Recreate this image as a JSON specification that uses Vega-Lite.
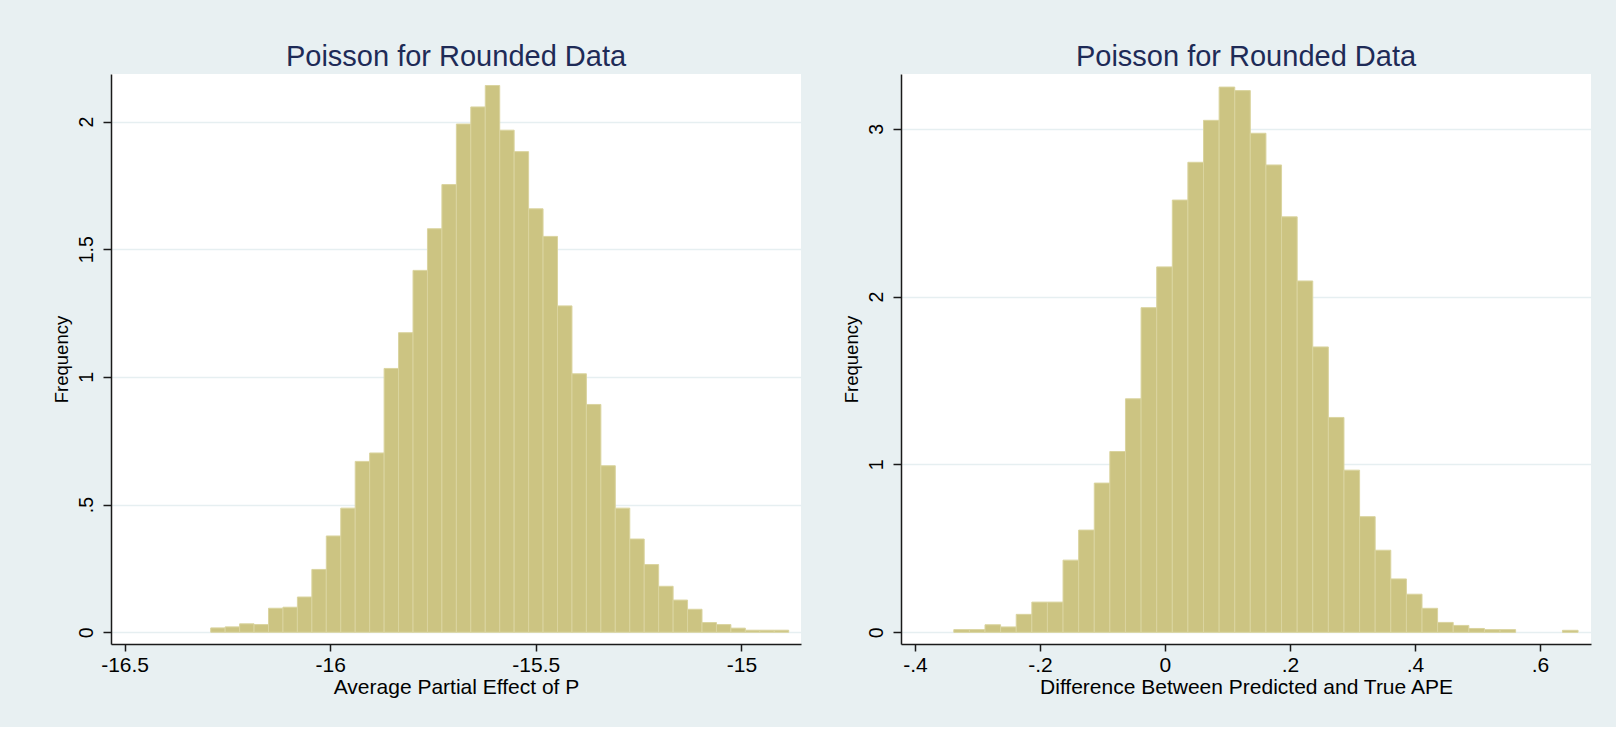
{
  "$schema": "https://vega.github.io/schema/vega-lite/v6.json",
  "background": "#E8F0F2",
  "padding": {"left": 51, "top": 43, "right": 25, "bottom": 30},
  "spacing": 41,
  "config": {
    "view": {"fill": "white", "stroke": null},
    "font": "Liberation Sans",
    "title": {"font": "Liberation Sans", "fontSize": 29, "fontWeight": "normal", "color": "#1E2B57", "anchor": "middle", "offset": 2},
    "axis": {
      "domainColor": "#1a1a1a", "domainWidth": 1.5, "tickColor": "#1a1a1a", "tickWidth": 1.5,
      "labelColor": "black", "titleColor": "black", "labelFont": "Liberation Sans", "titleFont": "Liberation Sans",
      "titleFontWeight": "normal", "gridColor": "#E6EFF1", "gridWidth": 1.5,
      "labelExpr": "replace(toString(datum.value), regexp('^(-?)0[.]'), '$1.')"
    },
    "axisX": {"grid": false, "tickSize": 7, "labelFontSize": 21, "titleFontSize": 21, "labelPadding": 3, "titlePadding": 1},
    "axisY": {"grid": true, "tickSize": 8, "labelFontSize": 19.5, "titleFontSize": 18.5, "labelAngle": 270, "labelAlign": "center", "labelBaseline": "bottom", "labelPadding": 7, "titlePadding": 5}
  },
  "datasets": {
    "left": [
      {"start": -16.2905, "end": -16.2554, "density": 0.017},
      {"start": -16.2554, "end": -16.2202, "density": 0.021},
      {"start": -16.2202, "end": -16.1851, "density": 0.033},
      {"start": -16.1851, "end": -16.1499, "density": 0.030},
      {"start": -16.1499, "end": -16.1148, "density": 0.094},
      {"start": -16.1148, "end": -16.0797, "density": 0.098},
      {"start": -16.0797, "end": -16.0445, "density": 0.138},
      {"start": -16.0445, "end": -16.0094, "density": 0.246},
      {"start": -16.0094, "end": -15.9742, "density": 0.377},
      {"start": -15.9742, "end": -15.9391, "density": 0.486},
      {"start": -15.9391, "end": -15.9040, "density": 0.669},
      {"start": -15.9040, "end": -15.8688, "density": 0.702},
      {"start": -15.8688, "end": -15.8337, "density": 1.033},
      {"start": -15.8337, "end": -15.7985, "density": 1.173},
      {"start": -15.7985, "end": -15.7634, "density": 1.417},
      {"start": -15.7634, "end": -15.7283, "density": 1.580},
      {"start": -15.7283, "end": -15.6931, "density": 1.753},
      {"start": -15.6931, "end": -15.6580, "density": 1.990},
      {"start": -15.6580, "end": -15.6228, "density": 2.057},
      {"start": -15.6228, "end": -15.5877, "density": 2.141},
      {"start": -15.5877, "end": -15.5526, "density": 1.966},
      {"start": -15.5526, "end": -15.5174, "density": 1.882},
      {"start": -15.5174, "end": -15.4823, "density": 1.658},
      {"start": -15.4823, "end": -15.4471, "density": 1.550},
      {"start": -15.4471, "end": -15.4120, "density": 1.278},
      {"start": -15.4120, "end": -15.3769, "density": 1.012},
      {"start": -15.3769, "end": -15.3417, "density": 0.892},
      {"start": -15.3417, "end": -15.3066, "density": 0.652},
      {"start": -15.3066, "end": -15.2714, "density": 0.486},
      {"start": -15.2714, "end": -15.2363, "density": 0.365},
      {"start": -15.2363, "end": -15.2012, "density": 0.265},
      {"start": -15.2012, "end": -15.1660, "density": 0.180},
      {"start": -15.1660, "end": -15.1309, "density": 0.126},
      {"start": -15.1309, "end": -15.0957, "density": 0.090},
      {"start": -15.0957, "end": -15.0606, "density": 0.038},
      {"start": -15.0606, "end": -15.0255, "density": 0.030},
      {"start": -15.0255, "end": -14.9903, "density": 0.016},
      {"start": -14.9903, "end": -14.9552, "density": 0.008},
      {"start": -14.9552, "end": -14.9200, "density": 0.008},
      {"start": -14.9200, "end": -14.8849, "density": 0.008}
    ],
    "right": [
      {"start": -0.3379, "end": -0.3129, "density": 0.016},
      {"start": -0.3129, "end": -0.2880, "density": 0.016},
      {"start": -0.2880, "end": -0.2630, "density": 0.045},
      {"start": -0.2630, "end": -0.2380, "density": 0.032},
      {"start": -0.2380, "end": -0.2130, "density": 0.107},
      {"start": -0.2130, "end": -0.1881, "density": 0.180},
      {"start": -0.1881, "end": -0.1631, "density": 0.180},
      {"start": -0.1631, "end": -0.1381, "density": 0.430},
      {"start": -0.1381, "end": -0.1131, "density": 0.609},
      {"start": -0.1131, "end": -0.0882, "density": 0.889},
      {"start": -0.0882, "end": -0.0632, "density": 1.077},
      {"start": -0.0632, "end": -0.0382, "density": 1.391},
      {"start": -0.0382, "end": -0.0132, "density": 1.934},
      {"start": -0.0132, "end": 0.0118, "density": 2.177},
      {"start": 0.0118, "end": 0.0367, "density": 2.575},
      {"start": 0.0367, "end": 0.0617, "density": 2.800},
      {"start": 0.0617, "end": 0.0867, "density": 3.050},
      {"start": 0.0867, "end": 0.1117, "density": 3.248},
      {"start": 0.1117, "end": 0.1366, "density": 3.227},
      {"start": 0.1366, "end": 0.1616, "density": 2.973},
      {"start": 0.1616, "end": 0.1866, "density": 2.784},
      {"start": 0.1866, "end": 0.2116, "density": 2.475},
      {"start": 0.2116, "end": 0.2365, "density": 2.093},
      {"start": 0.2365, "end": 0.2615, "density": 1.700},
      {"start": 0.2615, "end": 0.2865, "density": 1.280},
      {"start": 0.2865, "end": 0.3115, "density": 0.966},
      {"start": 0.3115, "end": 0.3364, "density": 0.689},
      {"start": 0.3364, "end": 0.3614, "density": 0.489},
      {"start": 0.3614, "end": 0.3864, "density": 0.318},
      {"start": 0.3864, "end": 0.4114, "density": 0.227},
      {"start": 0.4114, "end": 0.4363, "density": 0.143},
      {"start": 0.4363, "end": 0.4613, "density": 0.059},
      {"start": 0.4613, "end": 0.4863, "density": 0.041},
      {"start": 0.4863, "end": 0.5113, "density": 0.023},
      {"start": 0.5113, "end": 0.5362, "density": 0.016},
      {"start": 0.5362, "end": 0.5612, "density": 0.016},
      {"start": 0.6361, "end": 0.6611, "density": 0.012}
    ]
  },
  "hconcat": [
    {
      "width": 690, "height": 570,
      "title": "Poisson for Rounded Data",
      "data": {"name": "left"},
      "mark": {"type": "bar", "fill": "#CCC482", "stroke": "#DAD49F", "strokeWidth": 1},
      "encoding": {
        "x": {"field": "start", "type": "quantitative", "scale": {"domain": [-16.533, -14.855], "nice": false, "zero": false},
              "axis": {"values": [-16.5, -16, -15.5, -15], "title": "Average Partial Effect of P"}},
        "x2": {"field": "end"},
        "y": {"field": "density", "type": "quantitative", "scale": {"domain": [-0.046, 2.186], "nice": false, "zero": false},
              "axis": {"values": [0, 0.5, 1, 1.5, 2], "title": "Frequency"}},
        "y2": {"datum": 0}
      }
    },
    {
      "width": 690, "height": 570,
      "title": "Poisson for Rounded Data",
      "data": {"name": "right"},
      "mark": {"type": "bar", "fill": "#CCC482", "stroke": "#DAD49F", "strokeWidth": 1},
      "encoding": {
        "x": {"field": "start", "type": "quantitative", "scale": {"domain": [-0.4224, 0.6818], "nice": false, "zero": false},
              "axis": {"values": [-0.4, -0.2, 0, 0.2, 0.4, 0.6], "title": "Difference Between Predicted and True APE"}},
        "x2": {"field": "end"},
        "y": {"field": "density", "type": "quantitative", "scale": {"domain": [-0.0696, 3.326], "nice": false, "zero": false},
              "axis": {"values": [0, 1, 2, 3], "title": "Frequency"}},
        "y2": {"datum": 0}
      }
    }
  ]
}
